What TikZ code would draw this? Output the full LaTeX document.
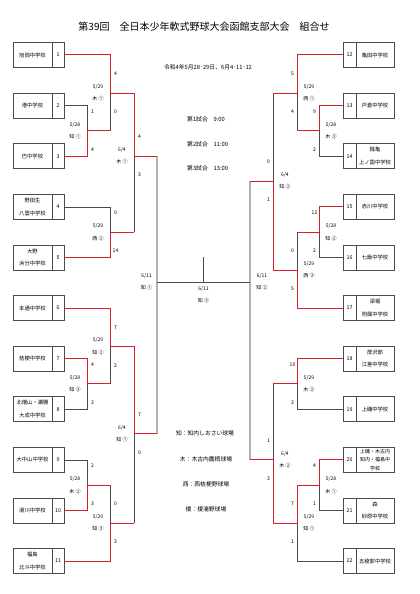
\documentclass[tikz,border=0pt]{standalone}
\usepackage{fontspec}
\setmainfont{Noto Sans CJK JP}
\usetikzlibrary{calc}
\definecolor{winred}{RGB}{215,30,45}
\newcommand\Lteam[3]{%
 \node[namebox,minimum width=39pt] (n#1) at (32.5,#2) {#3};
 \node[numbox,minimum width=12pt] (t#1) at (58,#2) {#1};}
\newcommand\Rteam[3]{%
 \node[namebox,minimum width=38pt] (n#1) at (375,#2) {#3};
 \node[numbox,minimum width=13pt] (t#1) at (349.5,#2) {#1};}
\newcommand\LMatch[5]{%
 \node[sc] (#1a) at ([shift={(5.5,-19)}]#1) {#2};
 \node[sc] (#1b) at ([shift={(5.5,19)}]#1) {#3};
 \node[sc] (#1c) at ([shift={(-12,-6)}]#1) {#4};
 \node[sc] (#1d) at ([shift={(-12,6)}]#1) {#5};}
\newcommand\RMatch[5]{%
 \node[sc] (#1a) at ([shift={(-4.5,-19)}]#1) {#2};
 \node[sc] (#1b) at ([shift={(-4.5,19)}]#1) {#3};
 \node[sc] (#1c) at ([shift={(12,-6)}]#1) {#4};
 \node[sc] (#1d) at ([shift={(12,6)}]#1) {#5};}
\begin{document}
\begin{tikzpicture}[x=1pt,y=-1pt,
 gl/.style={draw=black!70,line width=0.5pt},
 rl/.style={draw=winred,line width=1pt},
 sfl/.style={draw=black!30,line width=1.4pt},
 namebox/.style={draw=black!70,line width=0.5pt,minimum height=25pt,inner sep=0pt,align=center,font=\fontsize{5.3}{12.5}\selectfont},
 numbox/.style={draw=black!70,line width=0.5pt,minimum height=25pt,inner sep=0pt,font=\fontsize{5.3}{6}\selectfont},
 sc/.style={inner sep=0pt,font=\fontsize{5}{6}\selectfont},
 info/.style={inner sep=0pt,font=\fontsize{5.8}{7}\selectfont}]
\useasboundingbox (0,0) rectangle (420,594);
\fill[white] (0,0) rectangle (420,594);

\node[inner sep=0pt,font=\fontsize{10}{12}\selectfont] (title) at (204,27) {第39回　全日本少年軟式野球大会函館支部大会　組合せ};

% teams left
\Lteam{1}{55}{旭岡中学校}
\Lteam{2}{105.6}{港中学校}
\Lteam{3}{156.2}{巴中学校}
\Lteam{4}{206.8}{野田生\\八雲中学校}
\Lteam{5}{257.4}{大野\\浜分中学校}
\Lteam{6}{308}{本通中学校}
\Lteam{7}{358.6}{桔梗中学校}
\Lteam{8}{409.2}{北檜山・瀬棚\\大成中学校}
\Lteam{9}{459.8}{大中山中学校}
\Lteam{10}{510.4}{湯川中学校}
\Lteam{11}{561}{福島\\北斗中学校}
% teams right
\Rteam{12}{55}{亀田中学校}
\Rteam{13}{105.6}{戸倉中学校}
\Rteam{14}{156.2}{銭亀\\上ノ国中学校}
\Rteam{15}{206.8}{赤川中学校}
\Rteam{16}{257.4}{七飯中学校}
\Rteam{17}{308}{深堀\\附属中学校}
\Rteam{18}{358.6}{厚沢部\\江差中学校}
\Rteam{19}{409.2}{上磯中学校}
\node[namebox,minimum width=38pt,font=\fontsize{5}{8.6}\selectfont] (n20) at (375,459.8) {上磯・木古内\\知内・福島中\\学校};
\node[numbox,minimum width=13pt] (t20) at (349.5,459.8) {20};
\Rteam{21}{510.4}{森\\砂原中学校}
\Rteam{22}{561}{五稜郭中学校}

% junctions
\coordinate (jA) at (87,130.9);
\coordinate (jB) at (110,93);
\coordinate (jC) at (110,232.1);
\coordinate (jD) at (134,156);
\coordinate (jE) at (110,346.3);
\coordinate (jF) at (87,383.9);
\coordinate (jG) at (87,485.1);
\coordinate (jH) at (110,523);
\coordinate (jI) at (134,433.5);
\coordinate (jS) at (157,282);
\coordinate (jT) at (250,282);
\coordinate (jX) at (203.5,282);
\coordinate (xtop) at (203.5,257);
\coordinate (jJ) at (319,130.9);
\coordinate (jK) at (297,93);
\coordinate (jL) at (319,232.1);
\coordinate (jM) at (297,270);
\coordinate (jN) at (273,181);
\coordinate (jO) at (297,383.9);
\coordinate (jP) at (319,485.1);
\coordinate (jQ) at (297,523);
\coordinate (jR) at (273,459.5);

% grey (losing) paths, left
\draw[gl] (t2.east) -| (jA);
\draw[gl] (jA -| jB) -- (jB);
\draw[gl] (t4.east) -| (jC);
\draw[gl] (jC -| jD) -- (jD);
\draw[gl] (t8.east) -| (jF);
\draw[gl] (jF -| jE) -- (jE);
\draw[gl] (t9.east) -| (jG);
\draw[gl] (jG -| jH) -- (jH);
\draw[gl] (jH -| jI) -- (jI);
% grey right
\draw[gl] (t14.west) -| (jJ);
\draw[gl] (jJ -| jK) -- (jK);
\draw[gl] (t16.west) -| (jL);
\draw[gl] (jL -| jM) -- (jM);
\draw[gl] (jK -| jN) -- (jN);
\draw[gl] (t19.west) -| (jO);
\draw[gl] (t21.west) -| (jP);
\draw[gl] (t22.west) -| (jQ);
\draw[gl] (jO -| jR) -- (jR);
% semifinal and final
\draw[sfl] (jD -| jS) -- (jI -| jS);
\draw[sfl] (jN -| jT) -- (jR -| jT);
\draw[gl] (jS) -- (jT);
\draw[gl] (xtop) -- (jX);

% red (winning) paths, left
\draw[rl] (t3.east) -| (jA) -- (jA -| jB);
\draw[rl] (t1.east) -| (jB) -- (jB -| jD);
\draw[rl] (t5.east) -| (jC) -- (jC -| jD);
\draw[rl] (jB -| jD) -- (jD) -- (jD -| jS);
\draw[rl] (t7.east) -| (jF) -- (jF -| jE);
\draw[rl] (t6.east) -| (jE) -- (jE -| jI);
\draw[rl] (t10.east) -| (jG) -- (jG -| jH);
\draw[rl] (t11.east) -| (jH) -- (jH -| jI);
\draw[rl] (jE -| jI) -- (jI) -- (jI -| jS);
% red right
\draw[rl] (t13.west) -| (jJ) -- (jJ -| jK);
\draw[rl] (t12.west) -| (jK) -- (jK -| jN);
\draw[rl] (t15.west) -| (jL) -- (jL -| jM);
\draw[rl] (t17.west) -| (jM) -- (jM -| jN);
\draw[rl] (jM -| jN) -- (jN) -- (jN -| jT);
\draw[rl] (t18.west) -| (jO) -- (jO -| jR);
\draw[rl] (t20.west) -| (jP) -- (jP -| jQ);
\draw[rl] (jP -| jQ) -- (jQ) -- (jQ -| jR);
\draw[rl] (jQ -| jR) -- (jR) -- (jR -| jT);

% match labels
\LMatch{jA}{1}{4}{5/28}{知 ①}
\LMatch{jB}{4}{0}{5/29}{木 ①}
\LMatch{jC}{0}{14}{5/29}{西 ②}
\LMatch{jD}{4}{3}{6/4}{木 ①}
\LMatch{jE}{7}{2}{5/29}{知 ②}
\LMatch{jF}{4}{3}{5/28}{知 ③}
\LMatch{jG}{2}{3}{5/28}{木 ②}
\LMatch{jH}{0}{3}{5/29}{知 ③}
\LMatch{jI}{7}{0}{6/4}{知 ①}
\RMatch{jJ}{9}{2}{5/28}{木 ③}
\RMatch{jK}{5}{4}{5/29}{西 ①}
\RMatch{jL}{12}{2}{5/28}{知 ②}
\RMatch{jM}{0}{5}{5/29}{西 ③}
\RMatch{jN}{0}{1}{6/4}{知 ②}
\RMatch{jO}{10}{3}{5/29}{木 ②}
\RMatch{jP}{4}{1}{5/28}{木 ①}
\RMatch{jQ}{7}{1}{5/29}{知 ①}
\RMatch{jR}{1}{3}{6/4}{木 ②}
\node[sc] (sfl1) at ([shift={(-10.5,-6)}]jS) {6/11};
\node[sc] (sfl2) at ([shift={(-10.5,6)}]jS) {知 ①};
\node[sc] (sfr1) at ([shift={(12,-6)}]jT) {6/11};
\node[sc] (sfr2) at ([shift={(12,6)}]jT) {知 ②};
\node[sc] (fin1) at ([shift={(0,7)}]jX) {6/11};
\node[sc] (fin2) at ([shift={(0,19)}]jX) {知 ③};

% info
\node[info] (dates) at (208,67) {令和4年5月28･29日、6月4･11･12};
\node[info,anchor=west] (g1) at (187,119) {第1試合　9:00};
\node[info,anchor=west] (g2) at (187,144) {第2試合　11:00};
\node[info,anchor=west] (g3) at (187,168) {第3試合　13:00};
\node[info] (v1) at (205,433) {知：知内しおさい球場};
\node[info] (v2) at (206,459) {木：木古内鷹栖球場};
\node[info] (v3) at (206,484) {西：西桔梗野球場};
\node[info] (v4) at (206,509) {榎：榎浦野球場};
\end{tikzpicture}
\end{document}
